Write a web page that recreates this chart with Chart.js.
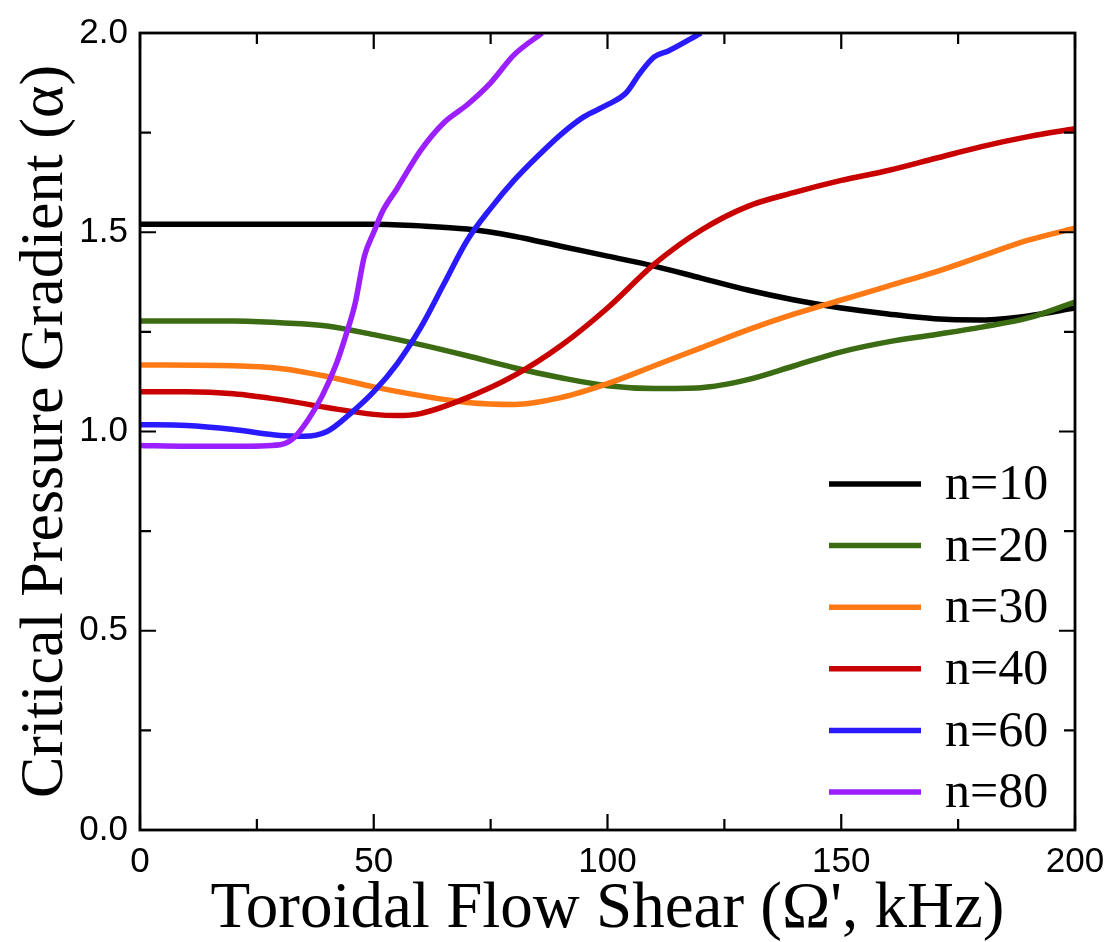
<!DOCTYPE html>
<html>
<head>
<meta charset="utf-8">
<script src="https://cdn.jsdelivr.net/npm/chart.js@4.4.0/dist/chart.umd.min.js"></script>
<style>
  html, body { margin: 0; padding: 0; background: #fff; }
  #wrap { width: 1107px; height: 942px; }
</style>
</head>
<body>
<div id="wrap"><canvas id="shear-chart" width="1107" height="942"></canvas></div>
<script>
// curves: x = toroidal flow shear (kHz), y = critical alpha
const labels = ['n=10', 'n=20', 'n=30', 'n=40', 'n=60', 'n=80'];
const colors = ['#000000', '#3b6b12', '#ff7a14', '#c80000', '#2a1aff', '#9b1fff'];

const n10X = [0, 20, 40, 50, 60, 70, 80, 90, 100, 110, 120, 130, 140, 150, 160, 170, 180, 190, 200];
const n10Y = [1.52, 1.52, 1.52, 1.52, 1.516, 1.508, 1.49, 1.465, 1.44, 1.415, 1.385, 1.355, 1.33, 1.31, 1.295, 1.283, 1.28, 1.29, 1.31];

const n20X = [0, 20, 30, 40, 50, 60, 70, 80, 90, 100, 110, 120, 130, 140, 150, 160, 170, 180, 190, 200];
const n20Y = [1.277, 1.277, 1.273, 1.265, 1.243, 1.218, 1.19, 1.16, 1.135, 1.115, 1.108, 1.11, 1.13, 1.165, 1.2, 1.225, 1.243, 1.262, 1.285, 1.325];

const n30X = [0, 20, 30, 40, 50, 60, 70, 80, 90, 100, 110, 120, 130, 140, 150, 160, 170, 180, 190, 200];
const n30Y = [1.167, 1.165, 1.158, 1.138, 1.112, 1.09, 1.073, 1.068, 1.085, 1.12, 1.165, 1.21, 1.255, 1.295, 1.33, 1.365, 1.4, 1.44, 1.48, 1.51];

const n40X = [0, 10, 20, 30, 40, 50, 55, 60, 70, 80, 90, 100, 110, 120, 130, 140, 150, 160, 170, 180, 190, 200];
const n40Y = [1.1, 1.1, 1.095, 1.08, 1.06, 1.043, 1.04, 1.045, 1.085, 1.14, 1.215, 1.31, 1.42, 1.505, 1.565, 1.6, 1.63, 1.655, 1.685, 1.715, 1.74, 1.76];

const n60X = [0, 10, 20, 30, 35, 40, 45, 50, 55, 60, 65, 70, 75, 80, 85, 90, 95, 100, 104, 107, 110, 113, 120];
const n60Y = [1.017, 1.015, 1.005, 0.99, 0.988, 1.0, 1.045, 1.1, 1.17, 1.26, 1.37, 1.48, 1.56, 1.63, 1.69, 1.745, 1.79, 1.82, 1.85, 1.9, 1.94, 1.955, 2.0];

const n80X = [0, 10, 20, 30, 33, 36, 39, 42, 44, 46, 48, 50, 52, 55, 60, 65, 70, 75, 80, 86];
const n80Y = [0.965, 0.963, 0.963, 0.967, 0.985, 1.03, 1.09, 1.17, 1.24, 1.32, 1.44, 1.5, 1.555, 1.61, 1.705, 1.775, 1.82, 1.875, 1.945, 2.0];

const xTicks = [0, 50, 100, 150, 200];
const yTicks = [0, 0.5, 1.0, 1.5, 2.0];

const seriesX = [n10X, n20X, n30X, n40X, n60X, n80X];
const seriesY = [n10Y, n20Y, n30Y, n40Y, n60Y, n80Y];

function toPoints(xs, ys) {
    return xs.map((x, i) => ({ x: x, y: ys[i] }));
}

// box round the plot with inward ticks (major + minor) on all four sides
const frame = {
    id: 'frame',
    afterDraw(chart) {
        const { ctx, chartArea: a, scales: { x, y } } = chart;
        ctx.save();
        ctx.strokeStyle = '#000';
        ctx.lineWidth = 2.8;
        ctx.strokeRect(a.left, a.top, a.right - a.left, a.bottom - a.top);
        ctx.lineWidth = 2.2;
        ctx.beginPath();
        for (let v = xTicks[0]; v <= xTicks[xTicks.length - 1]; v += 25) {
            const px = x.getPixelForValue(v);
            const len = xTicks.includes(v) ? 16 : 11;
            ctx.moveTo(px, a.bottom); ctx.lineTo(px, a.bottom - len);
            ctx.moveTo(px, a.top); ctx.lineTo(px, a.top + len);
        }
        for (let v = yTicks[0]; v <= yTicks[yTicks.length - 1] + 1e-9; v += 0.25) {
            const py = y.getPixelForValue(v);
            const len = yTicks.some(t => Math.abs(t - v) < 1e-9) ? 16 : 11;
            ctx.moveTo(a.left, py); ctx.lineTo(a.left + len, py);
            ctx.moveTo(a.right, py); ctx.lineTo(a.right - len, py);
        }
        ctx.stroke();

        // legend in lower right corner of the plot
        ctx.font = '50px "Liberation Serif", "Times New Roman", serif';
        ctx.textBaseline = 'middle';
        ctx.fillStyle = '#000';
        ctx.lineWidth = 5.5;
        labels.forEach((lab, i) => {
            const rowY = a.bottom - 346 + i * 61.6;
            ctx.strokeStyle = colors[i];
            ctx.beginPath();
            ctx.moveTo(a.right - 246, rowY);
            ctx.lineTo(a.right - 154, rowY);
            ctx.stroke();
            ctx.fillText(lab, a.right - 130, rowY + 2);
        });
        ctx.restore();
    }
};

const canvas = document.querySelector('#shear-chart');
new Chart(canvas.getContext('2d'), {
    type: 'line',
    data: {
        datasets: labels.map((lab, i) => ({
            label: lab,
            data: toPoints(seriesX[i], seriesY[i]),
            borderColor: colors[i],
            backgroundColor: colors[i],
            borderWidth: 5.5,
            pointRadius: 0,
            cubicInterpolationMode: 'monotone',
            fill: false,
            order: labels.length - i
        }))
    },
    options: {
        responsive: false,
        animation: false,
        events: [],
        layout: { padding: { top: 28, right: 32, left: 0, bottom: 0 } },
        plugins: {
            legend: { display: false },
            tooltip: { enabled: false }
        },
        scales: {
            x: {
                type: 'linear',
                min: 0,
                max: 200,
                grid: { display: false, drawTicks: false },
                border: { display: false },
                ticks: {
                    stepSize: 50,
                    padding: 11,
                    color: '#000',
                    maxRotation: 0,
                    font: { family: '"Liberation Sans", Arial, sans-serif', size: 35 }
                },
                title: {
                    display: true,
                    text: "Toroidal Flow Shear (\u03A9', kHz)",
                    color: '#000',
                    font: { family: '"Liberation Serif", "Times New Roman", serif', size: 65, lineHeight: 1 },
                    padding: { top: 0, bottom: 0 }
                },
                afterFit(scale) {
                    scale.height = 112;
                    // let the layout padding decide the right edge, not the "200" label
                    scale.paddingRight = 0;
                    scale.paddingLeft = 0;
                }
            },
            y: {
                type: 'linear',
                min: 0,
                max: 2,
                grid: { display: false, drawTicks: false },
                border: { display: false },
                ticks: {
                    stepSize: 0.5,
                    padding: 12,
                    color: '#000',
                    callback: v => v.toFixed(1),
                    font: { family: '"Liberation Sans", Arial, sans-serif', size: 35 }
                },
                title: {
                    display: true,
                    text: 'Critical Pressure Gradient (\u03B1)',
                    color: '#000',
                    font: { family: '"Liberation Serif", "Times New Roman", serif', size: 62, lineHeight: 1 },
                    padding: { top: 15, bottom: 0 }
                },
                afterFit(scale) { scale.width = 140; }
            }
        }
    },
    plugins: [frame]
});
</script>
</body>
</html>
